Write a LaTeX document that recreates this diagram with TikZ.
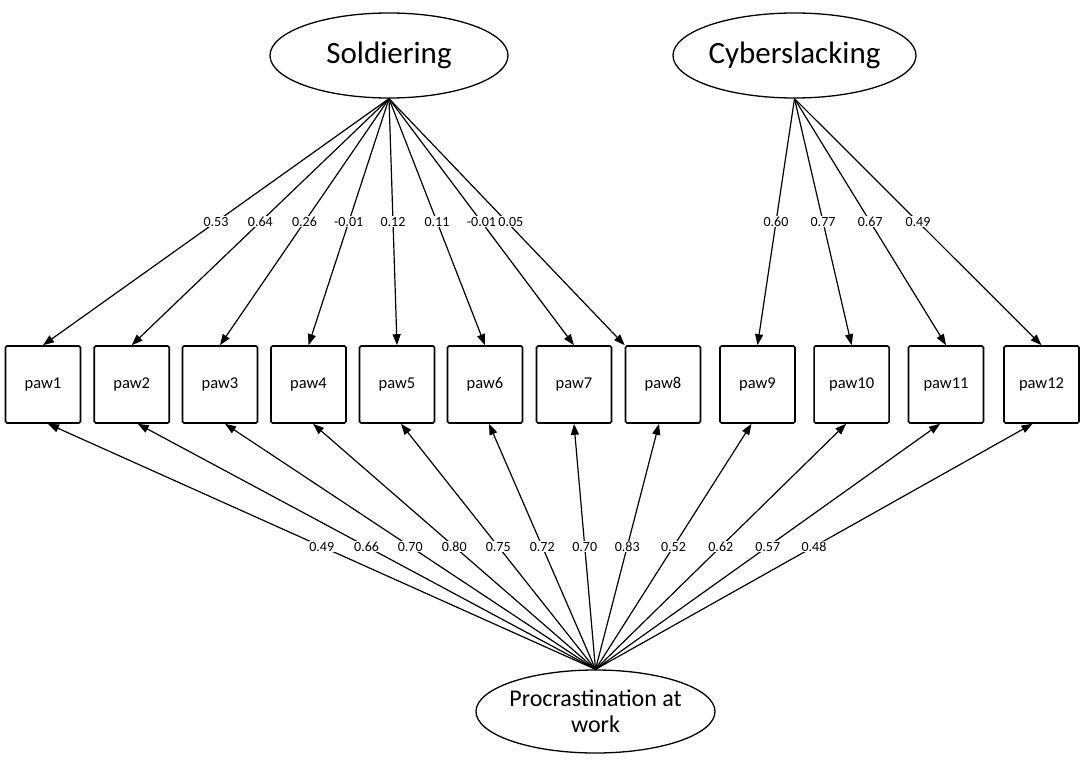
\documentclass[tikz,border=0pt]{standalone}
\usepackage{fontspec}
\setmainfont{Carlito}
\usetikzlibrary{arrows.meta,shapes.geometric,calc}
\begin{document}
\begin{tikzpicture}[x=1pt,y=-1pt,
  latent/.style={ellipse,draw,line width=1.3pt,inner sep=0pt,font=\fontsize{31}{36}\selectfont},
  obs/.style={rectangle,draw,line width=1.6pt,rounded corners=1.5pt,minimum width=75pt,minimum height=77pt,inner sep=0pt,font=\fontsize{16.5}{19}\selectfont},
  lnk/.style={line width=1.2pt,-{Triangle[length=11pt,width=8pt]}},
  lbl/.style={fill=white,inner sep=0.5pt,text height=9.5pt,text depth=0.5pt,font=\fontsize{14}{16}\selectfont}]
\useasboundingbox (0,0) rectangle (1084,768);

\node[latent,minimum width=238pt,minimum height=85pt] (sol) at (389,55.5) {Soldiering};
\node[latent,minimum width=237pt,minimum height=85pt] (cyb) at (794.5,55.5) {Cyberslacking};
\node[latent,minimum width=239pt,minimum height=83pt] (pro) at (595.5,711.5) {};
\node[align=center,inner sep=0pt,font=\fontsize{24}{26}\selectfont] (protext) at (pro.center) {Procrastination at\\work};

\foreach \i/\x in {1/43,2/131.7,3/220,4/308.5,5/397,6/485,7/574,8/663,9/757.5,10/851.6,11/946,12/1041.5}
  \node[obs] (p\i) at (\x,384.5) {paw\i};

\foreach \i/\v in {1/0.53,2/0.64,3/0.26,4/-0.01,5/0.12,6/0.11,7/-0.01}
  \draw[lnk] (sol.south) -- node[lbl]{\v} (p\i.north);
\draw[lnk] (sol.south) -- node[lbl,xshift=4pt]{0.05} (p8.north west);

\foreach \i/\v in {9/0.60,10/0.77,11/0.67,12/0.49}
  \draw[lnk] (cyb.south) -- node[lbl]{\v} (p\i.north);

\foreach \i/\v/\d in {1/0.49/5,2/0.66/6,3/0.70/5,4/0.80/4.5,5/0.75/4,6/0.72/4,7/0.70/0,8/0.83/-4,9/0.52/-6,10/0.62/-5.5,11/0.57/-6,12/0.48/-9}
  \draw[lnk] (pro.north) -- node[lbl]{\v} ($(p\i.south)+(\d,0)$);
\end{tikzpicture}
\end{document}
